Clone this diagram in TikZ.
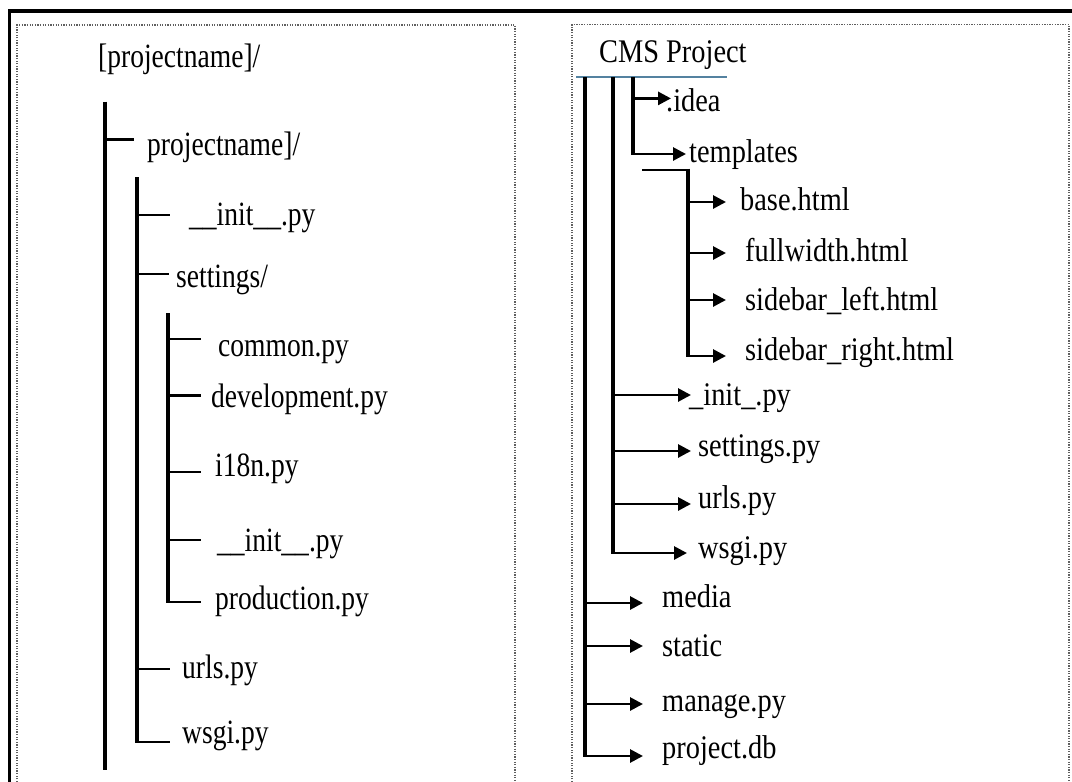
\documentclass[tikz,border=0pt]{standalone}
\usepackage{fontspec}
\setmainfont{Liberation Serif}
\newfontfamily\lfont[FakeStretch=0.81]{Liberation Serif}
\newfontfamily\rfont[FakeStretch=0.86]{Liberation Serif}
\usetikzlibrary{arrows.meta}
\definecolor{uline}{RGB}{84,130,160}
\definecolor{dotc}{RGB}{95,95,95}
\newcommand\twigline[5]{\coordinate (#1a) at (#2,#4); \coordinate (#1b) at (#3,#4); \draw[#5] (#1a) -- (#1b);}
\begin{document}
\begin{tikzpicture}[x=1pt,y=-1pt,
 ltxt/.style={font=\lfont\fontsize{34}{36}\selectfont,anchor=base west,inner sep=0pt},
 rtxt/.style={font=\rfont\fontsize{33}{36}\selectfont,anchor=base west,inner sep=0pt},
 trunk/.style={line width=3.6pt},
 twig/.style={line width=2.7pt},
 arr/.style={line width=2.8pt,-{Triangle[length=13pt,width=13pt]}},
 dotbox/.style={draw=dotc,line width=1.3pt,dash pattern=on 1.3pt off 1.3pt},
]
\useasboundingbox (0,0) rectangle (1072,782);
\fill[white] (0,0) rectangle (1072,782);
% outer frame
\coordinate (fTR) at (1072,11); \coordinate (fTL) at (9.5,11); \coordinate (fBL) at (9.5,782);
\draw[line width=3.2pt] (fTR) -- (fTL) -- (fBL);
% dotted panels
\coordinate (lb1) at (17,782); \coordinate (lb2) at (17,25); \coordinate (lb3) at (515,25); \coordinate (lb4) at (515,782);
\draw[dotbox] (lb1) -- (lb2) -- (lb3) -- (lb4);
\coordinate (rb1) at (572,782); \coordinate (rb2) at (572,24.5); \coordinate (rb3) at (1069,24.5); \coordinate (rb4) at (1069,782);
\draw[dotbox] (rb1) -- (rb2) -- (rb3) -- (rb4);

% ---------- left tree ----------
\node[ltxt] (root) at (98,67) {[projectname]/};
\node[ltxt] (pn) at (147,155) {projectname]/};
\node[ltxt] (ini1) at (189,225.5) {\_\_init\_\_.py};
\node[ltxt] (set) at (176,287.5) {settings/};
\node[ltxt] (com) at (218,356) {common.py};
\node[ltxt] (dev) at (211,407.5) {development.py};
\node[ltxt] (i18) at (215,476) {i18n.py};
\node[ltxt] (ini2) at (217,551.5) {\_\_init\_\_.py};
\node[ltxt] (prod) at (215,609) {production.py};
\node[ltxt] (urls) at (182,678) {urls.py};
\node[ltxt] (wsgi) at (182,743) {wsgi.py};

\coordinate (v1t) at (105,101.6); \coordinate (v1b) at (105,770);
\coordinate (v2t) at (137,177); \coordinate (v2b) at (137,743.3);
\coordinate (v3t) at (168,313); \coordinate (v3b) at (168,603.3);
\draw[trunk] (v1t) -- (v1b);
\draw[trunk] (v2t) -- (v2b);
\draw[trunk] (v3t) -- (v3b);
\twigline{lpn}{105}{134}{139.5}{twig}
\twigline{lini1}{137}{170}{215}{twig}
\twigline{lset}{137}{169}{274}{twig}
\twigline{lcom}{168}{201}{339}{twig}
\twigline{ldev}{168}{201}{395.5}{twig}
\twigline{li18}{168}{201}{472}{twig}
\twigline{lini2}{168}{201}{540}{twig}
\twigline{lprod}{166.2}{201}{602}{twig}
\twigline{lurls}{137}{170}{669}{twig}
\twigline{lwsgi}{135.2}{170}{742}{twig}

% ---------- right tree ----------
\node[rtxt] (cms) at (599,62.8) {CMS Project};
\node[rtxt] (idea) at (666,111) {.idea};
\node[rtxt] (tpl) at (689,162) {templates};
\node[rtxt] (base) at (740,210) {base.html};
\node[rtxt] (full) at (745,261) {fullwidth.html};
\node[rtxt] (sbl) at (745,310.5) {sidebar\_left.html};
\node[rtxt] (sbr) at (745,360) {sidebar\_right.html};
\node[rtxt] (rini) at (689,405.5) {\_init\_.py};
\node[rtxt] (rset) at (698,456) {settings.py};
\node[rtxt] (rurl) at (698,508) {urls.py};
\node[rtxt] (rwsg) at (698,558) {wsgi.py};
\node[rtxt] (med) at (662,607) {media};
\node[rtxt] (sta) at (662,656.5) {static};
\node[rtxt] (man) at (662,711) {manage.py};
\node[rtxt] (pdb) at (662,758) {project.db};

\twigline{ul}{576}{727}{77}{line width=1.6pt,draw=uline}
\coordinate (vAt) at (585,77); \coordinate (vAb) at (585,757.4);
\coordinate (vBt) at (613,77); \coordinate (vBb) at (613,554.4);
\coordinate (vCt) at (633,77); \coordinate (vCb) at (633,155.4);
\coordinate (vDt) at (688,168.6); \coordinate (vDb) at (688,357.4);
\draw[trunk] (vAt) -- (vAb);
\draw[trunk] (vBt) -- (vBb);
\draw[trunk] (vCt) -- (vCb);
\draw[trunk] (vDt) -- (vDb);
\twigline{tbar}{642}{689.8}{170}{twig}
\twigline{aidea}{633}{671}{98.4}{arr}
\twigline{atpl}{633}{686}{154}{arr}
\twigline{abase}{688}{726}{202}{arr}
\twigline{afull}{688}{726}{253}{arr}
\twigline{asbl}{688}{726}{300}{arr}
\twigline{asbr}{688}{726}{356}{arr}
\twigline{arini}{613}{691}{395}{arr}
\twigline{arset}{613}{691}{451}{arr}
\twigline{arurl}{613}{691}{504}{arr}
\twigline{arwsg}{613}{687}{553}{arr}
\twigline{amed}{585}{643}{603}{arr}
\twigline{asta}{585}{643}{646}{arr}
\twigline{aman}{585}{643}{704}{arr}
\twigline{apdb}{585}{643}{756}{arr}
\end{tikzpicture}
\end{document}
